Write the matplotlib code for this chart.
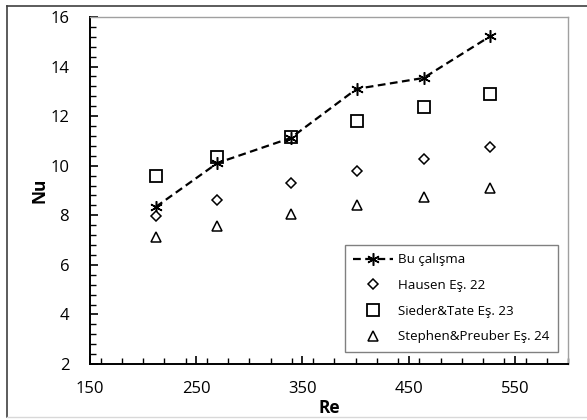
import matplotlib
matplotlib.use("Agg")
import matplotlib.pyplot as plt
from matplotlib.ticker import MultipleLocator
from matplotlib.lines import Line2D

plt.rcParams['font.family'] = ['Open Sans', 'DejaVu Sans']

re_vals = [212, 270, 339, 401, 464, 527]
bu_calisma = [8.34, 10.11, 11.12, 13.10, 13.54, 15.23]
hausen = [7.98, 8.62, 9.31, 9.79, 10.27, 10.76]
sieder_tate = [9.59, 10.35, 11.16, 11.80, 12.37, 12.90]
stephen_preuber = [7.13, 7.57, 8.05, 8.42, 8.74, 9.10]

labels = ["Bu çalışma", "Hausen Eş. 22", "Sieder&Tate Eş. 23", "Stephen&Preuber Eş. 24"]
x_ticks = [150, 250, 350, 450, 550]
y_ticks = [2, 4, 6, 8, 10, 12, 14, 16]

W, H = 587, 420
fig = plt.figure(figsize=(W / 100, H / 100), dpi=100)
ax = fig.add_axes([90 / W, 1 - 364 / H, (568 - 90) / W, (364 - 17) / H])

ax.plot(re_vals, bu_calisma, color='black', linestyle=(0, (3.5, 2)), linewidth=1.6,
        marker=(6, 2, 0), markersize=9, markeredgewidth=1.1, label=labels[0])
ax.plot(re_vals, hausen, linestyle='none', marker='D', markersize=5.5, markerfacecolor='white',
        markeredgecolor='black', markeredgewidth=1.1, label=labels[1])
ax.plot(re_vals, sieder_tate, linestyle='none', marker='s', markersize=8, markerfacecolor='none',
        markeredgecolor='black', markeredgewidth=1.3, label=labels[2])
ax.plot(re_vals, stephen_preuber, linestyle='none', marker='^', markersize=7, markerfacecolor='white',
        markeredgecolor='black', markeredgewidth=1.1, label=labels[3])

ax.set_xlim(150, 600)
ax.set_ylim(2, 16)
ax.set_xticks(x_ticks)
ax.set_yticks(y_ticks)
ax.xaxis.set_minor_locator(MultipleLocator(20))
ax.yaxis.set_minor_locator(MultipleLocator(0.4))
ax.tick_params(which='both', direction='in', top=False, right=False, labelsize=12, color='black')
ax.tick_params(which='major', length=6, width=1.2)
ax.tick_params(axis='x', which='major', pad=12)
ax.tick_params(axis='y', which='major', pad=15)
ax.tick_params(which='minor', length=4, width=1.0)

for s in ['left', 'bottom']:
    ax.spines[s].set_color('black')
    ax.spines[s].set_linewidth(1.4)
for s in ['top', 'right']:
    ax.spines[s].set_color('#a0a0a0')
    ax.spines[s].set_linewidth(1.0)

ax.set_xlabel('Re', fontsize=12.5, fontweight='bold', labelpad=2)
ax.set_ylabel('Nu', fontsize=12.5, fontweight='bold', labelpad=1)

leg = ax.legend(loc='lower right', bbox_to_anchor=((558 - 90) / (568 - 90), (364 - 352) / (364 - 17)),
                fontsize=9.6, frameon=True, fancybox=False, edgecolor='#606060',
                handlelength=3.0, handletextpad=0.35, labelspacing=0.95, borderpad=0.65, borderaxespad=0)
leg.get_frame().set_linewidth(1.0)

# outer chart frame
fig.add_artist(Line2D([7 / W, 7 / W], [1 - 6 / H, 1 - 417 / H], color='#404040', lw=1.2, transform=fig.transFigure))
fig.add_artist(Line2D([7 / W, 1.0], [1 - 6 / H, 1 - 6 / H], color='#404040', lw=1.2, transform=fig.transFigure))
fig.add_artist(Line2D([7 / W, 1.0], [1 - 417 / H, 1 - 417 / H], color='#d8d8d8', lw=1.0, transform=fig.transFigure))

fig.savefig('out.png', dpi=100)
